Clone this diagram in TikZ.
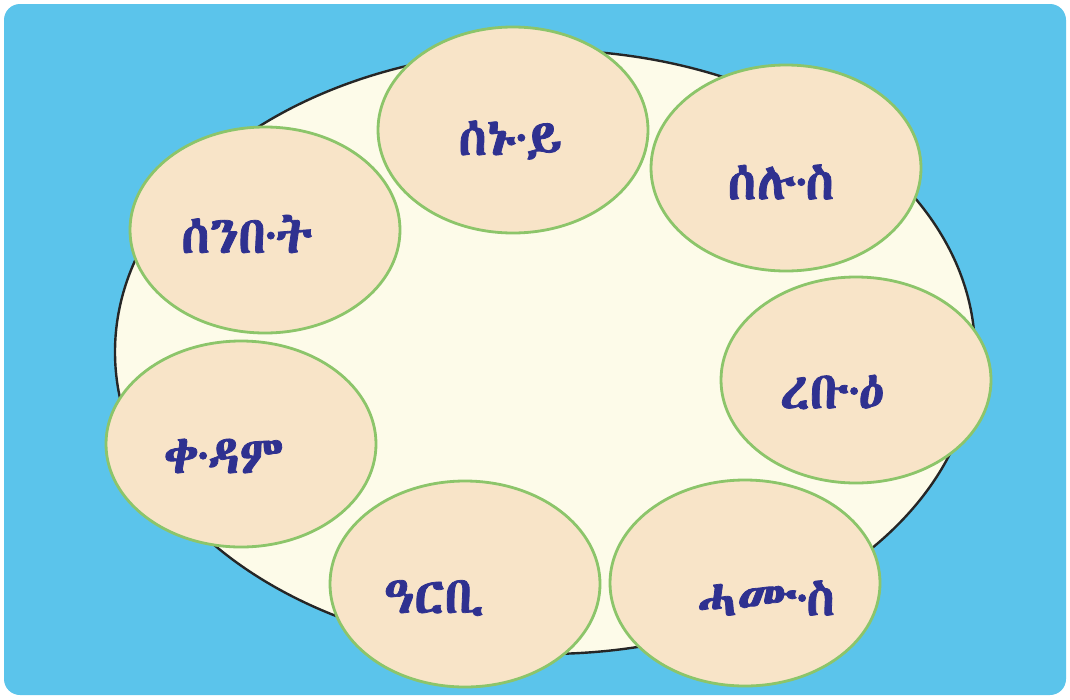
\documentclass[tikz,border=0pt]{standalone}
\usepackage{fontspec}
\usetikzlibrary{shapes.geometric}
\IfFontExistsTF{Abyssinica SIL}
  {\newfontfamily\ethfont{Abyssinica SIL}[Script=Ethiopic, FakeBold=1.5]}
  {\IfFontExistsTF{FreeSerif}
    {\newfontfamily\ethfont{FreeSerif}[Script=Ethiopic, FakeBold=1.5]}
    {\newfontfamily\ethfont{DejaVu Sans}[FakeBold=1.5]}}
\newcommand\sylsep{\kern-.05em·\kern-.06em}
\definecolor{skyblue}{HTML}{5BC4EB}
\definecolor{plate}{HTML}{FDFBE9}
\definecolor{peach}{HTML}{F8E4C8}
\definecolor{leaf}{HTML}{8CC56A}
\definecolor{ink}{HTML}{2F3190}

\begin{document}
\begin{tikzpicture}[x=1pt, y=-1pt,
    day/.style={ellipse, draw=leaf, line width=2.8pt, fill=peach,
                minimum width=270pt, minimum height=206pt, inner sep=0pt},
    daylabel/.style={font=\ethfont\fontsize{52}{60}\selectfont,
                 text=ink, inner sep=0pt}]
  \useasboundingbox (0,0) rectangle (1070,699);
  % background and plate
  \fill[white] (0,0) rectangle (1070,699);
  \fill[skyblue, rounded corners=16pt] (4,4) rectangle (1066,695);
  \node (plate) [ellipse, draw=black!85, line width=2.4pt, fill=plate,
                 minimum width=860pt, minimum height=604pt] at (545,352) {};
  % the seven days
  \node (sanuy)  [day] at (513,130) {};
  \node (selus)  [day] at (786,168) {};
  \node (senbet) [day] at (265,230) {};
  \node (rebue)  [day] at (856,380) {};
  \node (qedam)  [day] at (241,444) {};
  \node (arbi)   [day] at (465,584) {};
  \node (hamus)  [day] at (745,583) {};
  % labels
  \node (sanuy-t)  [daylabel] at (510,140) {ሰኑ\sylsep ይ};
  \node (selus-t)  [daylabel] at (781,182) {ሰሉ\sylsep ስ};
  \node (senbet-t) [daylabel] at (247,234) {ሰንበ\sylsep ት};
  \node (rebue-t)  [daylabel] at (832,392) {ረቡ\sylsep ዕ};
  \node (qedam-t)  [daylabel] at (224,456) {ቀ\sylsep ዳም};
  \node (arbi-t)   [daylabel] at (434,598) {ዓርቢ};
  \node (hamus-t)  [daylabel] at (766,598) {ሓሙ\sylsep ስ};
\end{tikzpicture}
\end{document}
